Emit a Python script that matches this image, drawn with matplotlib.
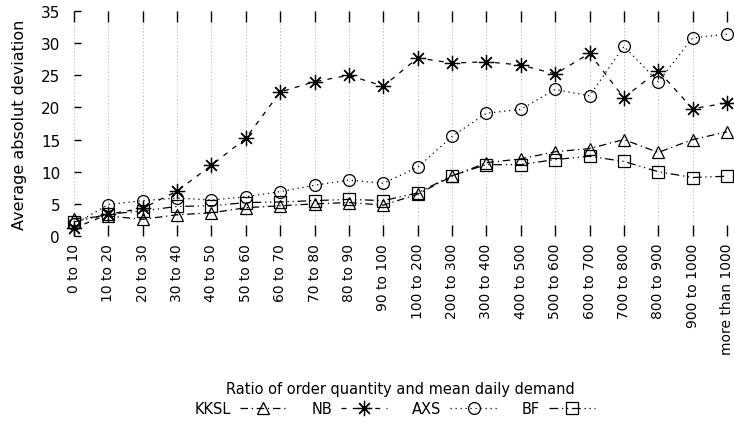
import matplotlib
matplotlib.use("Agg")
import matplotlib.pyplot as plt

categories = ["0 to 10", "10 to 20", "20 to 30", "30 to 40", "40 to 50", "50 to 60",
              "60 to 70", "70 to 80", "80 to 90", "90 to 100", "100 to 200", "200 to 300",
              "300 to 400", "400 to 500", "500 to 600", "600 to 700", "700 to 800",
              "800 to 900", "900 to 1000", "more than 1000"]

kksl = [2.7, 3.1, 2.6, 3.3, 3.6, 4.4, 4.7, 5.0, 5.2, 4.8, 6.5, 9.3, 11.4, 12.0, 13.1, 13.6, 15.0, 13.0, 15.0, 16.2]
nb   = [1.2, 3.4, 4.3, 7.0, 11.0, 15.2, 22.4, 24.0, 25.0, 23.3, 27.7, 26.9, 27.1, 26.6, 25.2, 28.4, 21.5, 25.7, 19.8, 20.7]
axs  = [1.8, 4.9, 5.5, 5.9, 5.6, 6.1, 6.9, 7.9, 8.7, 8.2, 10.7, 15.5, 19.1, 19.7, 22.8, 21.8, 29.5, 24.0, 30.8, 31.4]
bf   = [2.2, 3.4, 3.9, 4.6, 4.7, 5.2, 5.3, 5.5, 5.7, 5.5, 6.7, 9.4, 11.1, 11.1, 11.9, 12.4, 11.6, 10.0, 9.1, 9.3]

series = [
    ("KKSL", kksl, "^", (0, (6, 3, 1, 3)), 8.5),
    ("NB", nb, (8, 2, 0), (0, (4, 5)), 11),
    ("AXS", axs, "o", (0, (1, 3)), 8.5),
    ("BF", bf, "s", (0, (7, 3, 1, 3, 1, 3)), 8),
]

plt.rcParams['font.family'] = ['DejaVu Sans']
fig = plt.figure(figsize=(7.34, 4.35), dpi=100)
ax = fig.add_axes([74/734, 1-237/435, (727-74)/734, (237-12)/435])

x = list(range(len(categories)))
handles = []
for name, vals, mk, ls, ms in series:
    h, = ax.plot(x, vals, color="black", linestyle=ls, linewidth=0.9,
                 marker=mk, markersize=ms,
                 markerfacecolor="none", markeredgecolor="black",
                 markeredgewidth=0.9, label=name, clip_on=False)
    handles.append(h)

ax.set_xlim(0, len(categories) - 1)
ax.set_ylim(0, 35)
for s in ax.spines.values():
    s.set_visible(False)

ax.set_xticks(x)
ax.set_xticklabels(categories, rotation=90, fontsize=10)
ax.set_yticks(range(0, 36, 5))
ax.tick_params(axis="y", direction="in", length=5, width=1, labelsize=11, pad=10)
ax.tick_params(axis="x", direction="in", length=8, width=1, labelsize=10,
               top=True, pad=5)
ax.grid(axis="x", color="#aaaaaa", linestyle=(0, (1, 2.5)), linewidth=0.7)

ax.set_ylabel("Average absolut deviation", fontsize=11.5, labelpad=10)

fig.text(400/734, 1-390/435, "Ratio of order quantity and mean daily demand",
         ha="center", va="center", fontsize=10.5)

leg = fig.legend(handles=handles, loc="center", bbox_to_anchor=(395/734, 1-410/435),
                 ncol=4, frameon=False, markerfirst=False, fontsize=10.5,
                 handlelength=3.2, columnspacing=1.7, handletextpad=0.6,
                 borderaxespad=0, markerscale=1.0)

fig.savefig("out.png", dpi=100)
